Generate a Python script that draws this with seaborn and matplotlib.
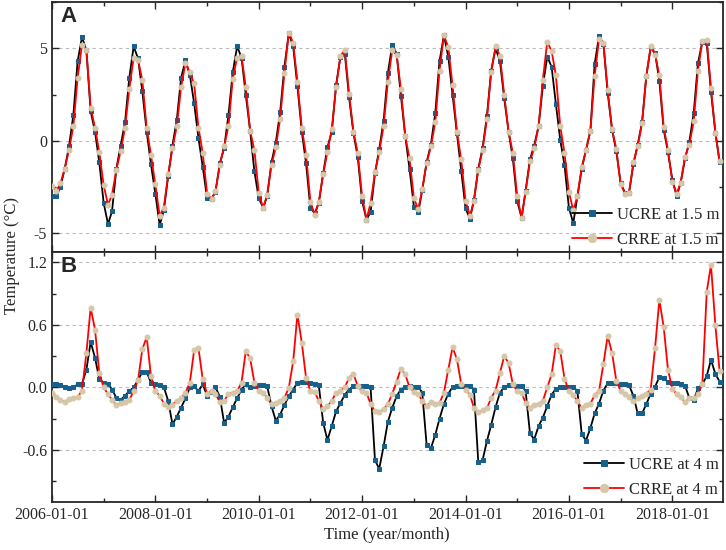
import numpy as np
import pandas as pd
import matplotlib
matplotlib.use("Agg")
import matplotlib.pyplot as plt
import matplotlib.dates as mdates
from matplotlib.ticker import MultipleLocator, FormatStrFormatter
import seaborn as sns

# monthly series, 2006-01 .. 2018-12
dates = pd.date_range("2006-01-01", periods=156, freq="MS")

# panel A: temperature at 1.5 m
ucre_15 = [
    -3.0, -3.0, -2.5, -1.5, -0.3, 1.4, 4.3, 5.6, 4.9, 1.6, 0.5, -1.15,
    -3.35, -4.5, -3.8, -1.5, -0.25, 1.0, 3.4, 5.1, 4.45, 2.7, 0.5, -1.25,
    -2.85, -4.55, -3.75, -1.9, -0.25, 1.15, 3.4, 4.35, 3.55, 2.05, 0.15, -1.4,
    -3.1, -3.15, -2.75, -1.2, -0.4, 1.4, 3.7, 5.1, 4.5, 2.5, 0.55, -1.65,
    -3.1, -3.6, -3.0, -1.15, -0.1, 1.55, 4.0, 5.8, 5.1, 2.95, 0.5, -1.2,
    -3.65, -3.9, -3.35, -1.75, -0.35, 0.5, 3.0, 4.55, 4.7, 2.35, 0.4, -0.85,
    -3.25, -4.25, -3.85, -1.75, -0.45, 1.1, 3.65, 5.2, 4.7, 2.45, 0.25, -1.5,
    -3.55, -3.85, -2.65, -1.15, -0.2, 1.5, 4.3, 5.7, 4.55, 2.5, 0.4, -1.6,
    -3.65, -4.2, -3.2, -1.5, -0.4, 1.35, 3.8, 5.0, 4.3, 2.3, 0.5, -0.95,
    -3.25, -4.15, -2.7, -1.0, -0.25, 0.8, 2.95, 4.55, 4.0, 2.0, 0.05, -1.3,
    -3.6, -4.45, -3.0, -1.5, -0.5, 0.55, 4.15, 5.65, 5.25, 2.6, 0.6, -0.55,
    -2.3, -2.8, -2.8, -1.25, -0.2, 1.0, 3.5, 5.05, 4.75, 3.25, 0.6, -0.6,
    -2.1, -3.0, -2.25, -0.95, -0.05, 1.5, 4.2, 5.35, 5.3, 2.65, 0.45, -1.15,
]
crre_15 = [
    -2.45, -2.7, -2.3, -1.5, -0.5, 0.8, 3.4, 5.2, 4.9, 1.8, 0.7, -0.6,
    -2.4, -3.45, -2.9, -1.55, -0.55, 0.7, 2.8, 4.5, 4.35, 3.3, 0.7, -0.75,
    -2.35, -4.05, -3.6, -1.8, -0.4, 0.8, 2.9, 4.2, 3.7, 3.1, 0.7, -0.65,
    -2.85, -3.15, -2.7, -1.3, -0.3, 0.8, 3.35, 4.5, 4.6, 2.9, 0.55, -0.5,
    -2.8, -3.65, -2.9, -1.3, -0.35, 1.2, 3.65, 5.85, 5.3, 3.2, 0.7, -0.75,
    -3.3, -4.0, -3.3, -1.8, -0.6, 0.65, 2.9, 4.6, 4.9, 2.55, 0.5, -0.65,
    -3.0, -4.25, -3.35, -1.7, -0.6, 0.8, 3.2, 4.9, 4.65, 2.8, 0.25, -0.95,
    -3.1, -3.7, -2.6, -1.2, -0.3, 1.0, 3.8, 5.7, 5.05, 3.0, 0.5, -1.0,
    -3.25, -4.05, -3.25, -1.55, -0.5, 1.2, 3.7, 5.1, 4.6, 2.5, 0.5, -0.65,
    -3.0, -4.15, -2.75, -1.1, -0.4, 0.8, 3.3, 5.35, 4.85, 3.55, 0.8, -0.65,
    -2.75, -3.75, -3.0, -1.4, -0.5, 0.55, 3.5, 5.5, 5.3, 2.75, 0.65, -0.45,
    -2.35, -2.85, -2.8, -1.15, -0.3, 0.95, 3.5, 5.1, 4.65, 3.55, 0.75, -0.5,
    -2.2, -2.85, -2.25, -0.85, -0.2, 1.05, 3.8, 5.4, 5.45, 2.85, 0.45, -1.1,
]

# panel B: temperature at 4 m
ucre_4 = [
    0.03, 0.03, 0.02, 0.0, -0.01, 0.0, 0.03, 0.035, 0.17, 0.435, 0.285, 0.08,
    0.045, 0.035, -0.02, -0.1, -0.12, -0.08, -0.035, 0.0, 0.07, 0.15, 0.15, 0.045,
    0.03, 0.02, 0.005, -0.13, -0.355, -0.28, -0.195, -0.105, 0.0, 0.01, -0.035, 0.03,
    -0.08, -0.04, 0.0, -0.09, -0.34, -0.28, -0.19, -0.105, -0.02, 0.03, 0.005, 0.013,
    0.02, 0.02, 0.013, -0.18, -0.32, -0.26, -0.17, -0.085, -0.02, 0.045, 0.055, 0.05,
    0.045, 0.035, 0.02, -0.34, -0.505, -0.37, -0.23, -0.15, -0.07, -0.02, 0.013, 0.013,
    0.013, 0.01, 0.0, -0.70, -0.78, -0.565, -0.33, -0.195, -0.083, -0.02, 0.003, 0.013,
    0.006, 0.006, -0.05, -0.555, -0.585, -0.455, -0.30, -0.16, -0.06, 0.003, 0.013, 0.013,
    0.013, 0.013, -0.02, -0.72, -0.70, -0.515, -0.36, -0.19, -0.05, 0.003, 0.02, 0.02,
    0.013, 0.013, -0.03, -0.44, -0.50, -0.37, -0.29, -0.18, -0.07, -0.013, 0.003, 0.006,
    0.006, 0.006, -0.035, -0.45, -0.51, -0.39, -0.25, -0.155, -0.03, 0.04, 0.045, 0.04,
    0.035, 0.03, 0.02, -0.08, -0.25, -0.25, -0.16, -0.06, 0.006, 0.1, 0.09, 0.05,
    0.045, 0.045, 0.035, 0.013, -0.1, -0.12, -0.01, 0.03, 0.11, 0.265, 0.13, 0.055,
]
crre_4 = [
    -0.05, -0.09, -0.12, -0.14, -0.115, -0.105, -0.095, -0.03, 0.33, 0.765, 0.555, 0.14,
    0.0, -0.065, -0.12, -0.17, -0.15, -0.14, -0.12, -0.035, 0.07, 0.365, 0.485, 0.11,
    -0.035, -0.08, -0.155, -0.19, -0.165, -0.13, -0.105, -0.05, 0.045, 0.355, 0.375, 0.077,
    -0.06, -0.035, -0.065, -0.14, -0.13, -0.06, -0.05, -0.035, 0.045, 0.345, 0.28, 0.045,
    -0.035, -0.05, -0.1, -0.16, -0.145, -0.13, -0.1, -0.005, 0.25, 0.70, 0.43, 0.09,
    -0.035, -0.045, -0.13, -0.21, -0.18, -0.13, -0.05, -0.035, 0.005, 0.09, 0.13, 0.013,
    -0.035, -0.05, -0.16, -0.23, -0.24, -0.21, -0.16, -0.06, 0.055, 0.18, 0.125, 0.0,
    -0.04, -0.06, -0.13, -0.18, -0.14, -0.16, -0.15, -0.05, 0.17, 0.385, 0.27, 0.035,
    -0.02, -0.07, -0.195, -0.24, -0.22, -0.2, -0.1, -0.03, 0.14, 0.30, 0.235, 0.03,
    -0.035, -0.05, -0.15, -0.195, -0.17, -0.16, -0.13, 0.0, 0.125, 0.405, 0.35, 0.085,
    -0.035, -0.07, -0.13, -0.2, -0.165, -0.155, -0.075, -0.035, 0.225, 0.495, 0.33, 0.065,
    -0.035, -0.06, -0.09, -0.13, -0.105, -0.085, -0.06, -0.02, 0.38, 0.84, 0.58, 0.17,
    -0.013, -0.065, -0.095, -0.14, -0.105, -0.105, -0.06, 0.03, 0.92, 1.175, 0.595, 0.155,
]

ucre_color = "#17608c"
crre_color = "#d6c7a8"

sns.set_style("ticks")
plt.rcParams["font.family"] = ["Liberation Serif", "DejaVu Serif"]
plt.rcParams["axes.unicode_minus"] = False

fig = plt.figure(figsize=(7.26, 5.5), dpi=100)
ax_a = fig.add_axes([52 / 726, 1 - 252 / 550, (723.3 - 52) / 726, 250 / 550])
ax_b = fig.add_axes([52 / 726, 1 - 502 / 550, (723.3 - 52) / 726, 250 / 550], sharex=ax_a)

panels = [
    (ax_a, ucre_15, crre_15, "1.5 m", "A"),
    (ax_b, ucre_4, crre_4, "4 m", "B"),
]
for ax, ucre, crre, depth, tag in panels:
    sns.lineplot(x=dates, y=ucre, ax=ax, color="black", linewidth=1.3,
                 marker="s", markersize=3.0, markerfacecolor=ucre_color,
                 markeredgecolor=ucre_color, label=f"UCRE at {depth}", zorder=3)
    sns.lineplot(x=dates, y=crre, ax=ax, color="red", linewidth=1.3,
                 marker="o", markersize=3.6, markerfacecolor=crre_color,
                 markeredgecolor=crre_color, label=f"CRRE at {depth}", zorder=4)
    ax.set_xlabel("")
    ax.set_ylabel("")
    ax.grid(axis="y", which="major", color="#bbbbbb", linestyle=(0, (3, 3)), linewidth=0.8)
    ax.tick_params(which="both", direction="in", top=True, right=True,
                   labelsize=11.5, width=1.0)
    ax.tick_params(which="major", length=5)
    ax.tick_params(which="minor", length=3)
    for s in ax.spines.values():
        s.set_linewidth(1.3)
    ax.text(0.013, 0.985, tag, transform=ax.transAxes, ha="left", va="top",
            fontsize=16, fontweight="bold", family="Liberation Sans")
    ax.legend(loc="lower right", frameon=False, fontsize=12, markerscale=1.65,
              handlelength=2.4, handletextpad=0.3, labelspacing=0.55,
              borderaxespad=0.0, borderpad=0.25)

ax_a.set_ylim(-6, 7.5)
ax_a.yaxis.set_major_locator(MultipleLocator(5))
ax_a.yaxis.set_minor_locator(MultipleLocator(2.5))
ax_a.tick_params(axis="x", labelbottom=False)

ax_b.set_ylim(-1.1, 1.3)
ax_b.yaxis.set_major_locator(MultipleLocator(0.6))
ax_b.yaxis.set_minor_locator(MultipleLocator(0.3))
ax_b.yaxis.set_major_formatter(FormatStrFormatter("%.1f"))

ax_b.set_xlim(pd.Timestamp("2006-01-01"), pd.Timestamp("2018-12-27"))
ax_b.xaxis.set_major_locator(mdates.YearLocator(2))
ax_b.xaxis.set_minor_locator(mdates.YearLocator(1))
ax_b.xaxis.set_major_formatter(mdates.DateFormatter("%Y-%m-%d"))

fig.text(12 / 726, 1 - 255 / 550, "Temperature (°C)", rotation=90,
         ha="center", va="center", fontsize=12)
fig.text(387 / 726, 1 - 535 / 550, "Time (year/month)", ha="center",
         va="center", fontsize=12)

fig.savefig("out.png", dpi=100)
